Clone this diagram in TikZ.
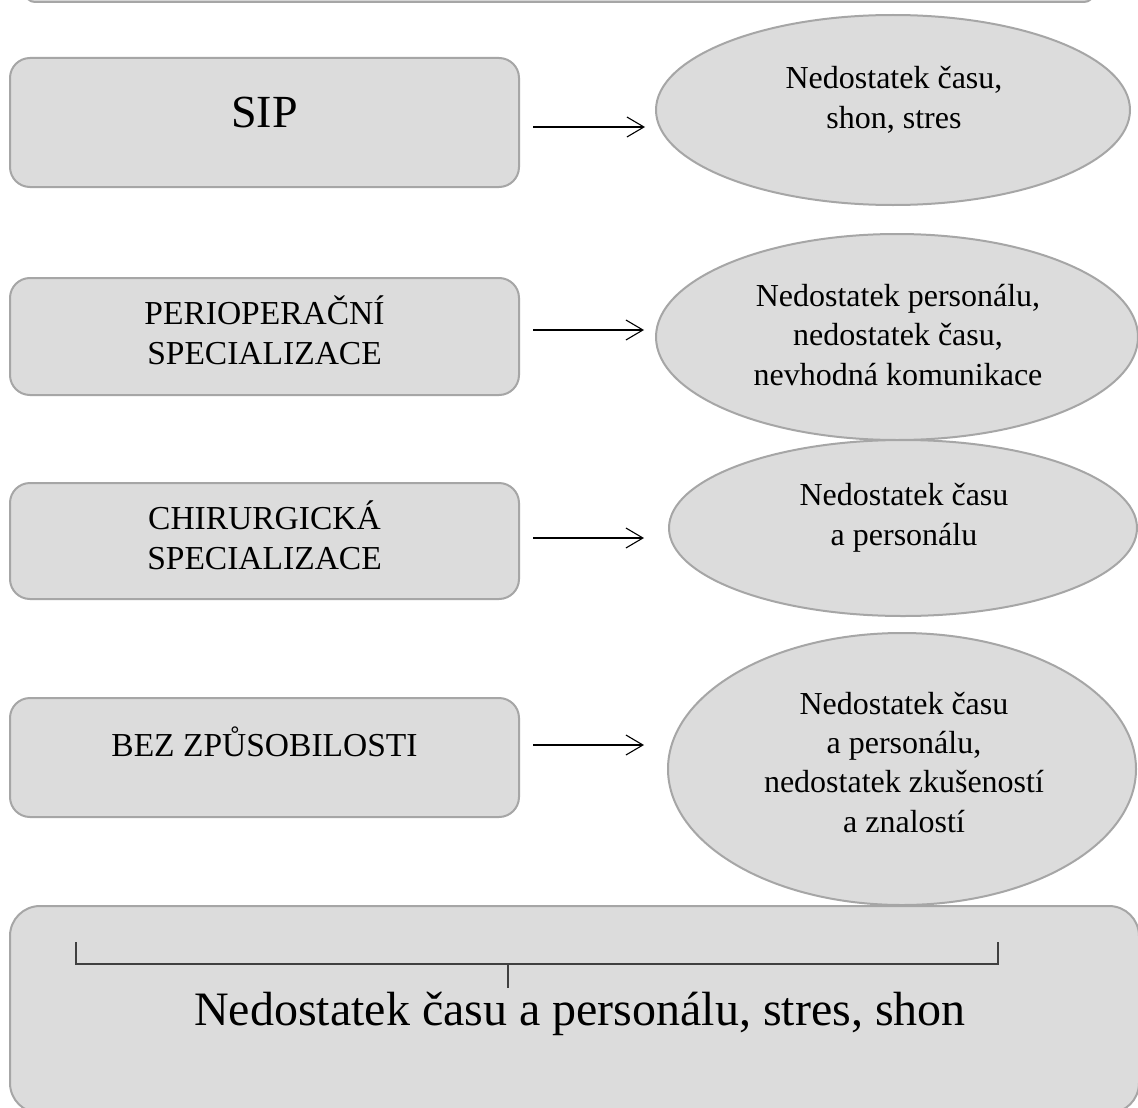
\documentclass[tikz,border=0pt]{standalone}
\usepackage{fontspec}
\setmainfont{Liberation Serif}
\usetikzlibrary{shapes.geometric, arrows.meta}
\definecolor{boxfill}{HTML}{DCDCDC}
\definecolor{boxdraw}{HTML}{A6A6A6}
\definecolor{brkcol}{HTML}{404040}
\begin{document}
\begin{tikzpicture}[x=1pt,y=-1pt,
  shp/.style={fill=boxfill, draw=boxdraw, line width=2pt},
  rbox/.style={shp, rectangle, rounded corners=20pt, inner sep=0pt, minimum width=509pt},
  ell/.style={shp, ellipse, inner sep=0pt},
  txt/.style={font=\fontsize{32}{39.3}\selectfont, align=center, anchor=base, inner sep=0pt},
  btxt/.style={txt, font=\fontsize{33.5}{39.3}\selectfont},
  arr/.style={line width=1.1pt, -{Straight Barb[length=17pt,width=20pt,line width=1.1pt]}},
  brk/.style={draw=brkcol, line width=1.5pt}]
\useasboundingbox (0,0) rectangle (1138,1108);
\clip (0,0) rectangle (1138,1108);
\fill[white] (0,0) rectangle (1138,1108);

% top cut-off box
\node[shp, rectangle, rounded corners=10pt, minimum width=1069pt, minimum height=60pt, anchor=south west, inner sep=0pt] (topbar) at (24,3) {};

% left boxes
\node[rbox, minimum height=129pt] (sip) at (264.5,122.5) {};
\node[rbox, minimum height=117pt] (peri) at (264.5,336.5) {};
\node[rbox, minimum height=116pt] (chir) at (264.5,541) {};
\node[rbox, minimum height=119pt] (bez) at (264.5,757.5) {};

% (multi-line nodes: base anchor = baseline of the last line)
\node[font=\fontsize{46}{52}\selectfont, anchor=base, inner sep=0pt] (tsip) at (264.5,127) {SIP};
\node[btxt] (tperi) at (264.5,364) {PERIOPERAČNÍ\\SPECIALIZACE};
\node[btxt] (tchir) at (264.5,569) {CHIRURGICKÁ\\SPECIALIZACE};
\node[btxt] (tbez) at (264.5,756) {BEZ ZPŮSOBILOSTI};

% bottom box
\node[shp, rectangle, rounded corners=30pt, minimum width=1129pt, minimum height=207pt, inner sep=0pt] (sum) at (574.5,1009.5) {};

% ellipses
\node[ell, minimum width=474pt, minimum height=190pt] (e1) at (893,110) {};
\node[ell, minimum width=482pt, minimum height=206pt] (e2) at (897,337) {};
\node[ell, minimum width=468pt, minimum height=176pt] (e3) at (903,528) {};
\node[ell, minimum width=468pt, minimum height=272pt] (e4) at (902,769) {};

\node[txt] (te1) at (894,128) {Nedostatek času,\\shon, stres};
\node[txt] (te2) at (898,385) {Nedostatek personálu,\\nedostatek času,\\nevhodná komunikace};
\node[txt] (te3) at (904,545) {Nedostatek času\\a personálu};
\node[txt] (te4) at (904,832) {Nedostatek času\\a personálu,\\nedostatek zkušeností\\a znalostí};

% arrows
\coordinate (a1s) at (533,127); \coordinate (a1e) at (645,127);
\coordinate (a2s) at (533,330); \coordinate (a2e) at (644,330);
\coordinate (a3s) at (533,538); \coordinate (a3e) at (644,538);
\coordinate (a4s) at (533,745); \coordinate (a4e) at (644,745);
\draw[arr] (a1s) -- (a1e);
\draw[arr] (a2s) -- (a2e);
\draw[arr] (a3s) -- (a3e);
\draw[arr] (a4s) -- (a4e);

% bracket
\coordinate (bl) at (76,942); \coordinate (blb) at (76,964);
\coordinate (br) at (998,942); \coordinate (brb) at (998,964);
\coordinate (bm) at (508,964); \coordinate (bmt) at (508,988);
\draw[brk] (bl) -- (blb) -- (brb) -- (br);
\draw[brk] (bm) -- (bmt);

\node[font=\fontsize{48}{56}\selectfont, anchor=base, inner sep=0pt] (tsum) at (580,1025) {Nedostatek času a personálu, stres, shon};
\end{tikzpicture}
\end{document}
